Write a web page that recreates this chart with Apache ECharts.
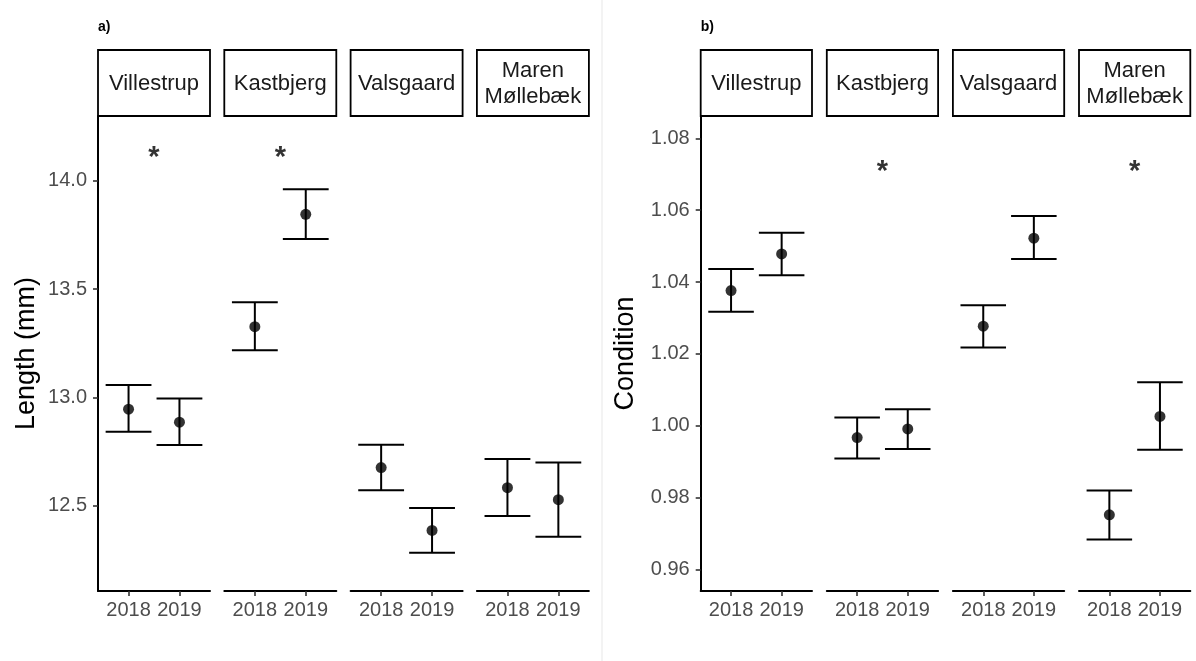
<!DOCTYPE html>
<html>
<head>
<meta charset="utf-8">
<script src="https://cdn.jsdelivr.net/npm/echarts@6/dist/echarts.min.js"></script>
<style>
  html, body { margin: 0; padding: 0; background: #ffffff; }
  #chart { width: 1196px; height: 661px; }
</style>
</head>
<body>
<div id="chart"></div>
<script>
// Sites (facets) and sampling years
const sites = ['Villestrup', 'Kastbjerg', 'Valsgaard', 'Maren\nMøllebæk'];
const years = ['2018', '2019'];

// Length (mm): mean and confidence limits per site, [2018, 2019]
const lengthMean  = [[12.946, 12.886], [13.327, 13.846], [12.676, 12.386], [12.583, 12.528]];
const lengthLower = [[12.841, 12.780], [13.218, 13.732], [12.571, 12.283], [12.452, 12.357]];
const lengthUpper = [[13.057, 12.995], [13.440, 13.962], [12.782, 12.489], [12.716, 12.700]];
const lengthSignificant = [true, true, false, false];
const lengthStarY = 14.105;
const lengthTicks = [12.5, 13.0, 13.5, 14.0];

// Condition factor: mean and confidence limits per site, [2018, 2019]
const condMean  = [[1.0376, 1.0478], [0.9967, 0.9991], [1.0277, 1.0522], [0.9752, 1.0026]];
const condLower = [[1.0317, 1.0419], [0.9909, 0.9935], [1.0218, 1.0464], [0.9683, 0.9933]];
const condUpper = [[1.0436, 1.0537], [1.0023, 1.0046], [1.0335, 1.0584], [0.9820, 1.0121]];
const condSignificant = [false, true, false, true];
const condStarY = 1.0705;
const condTicks = [0.96, 0.98, 1.00, 1.02, 1.04, 1.06, 1.08];

const FONT = "'Liberation Sans', Arial, sans-serif";
const CAP_HALF = 0.45;

// Panel geometry
const panels = [
  { tag: 'a)', yName: 'Length (mm)', left0: 98, step: 126.3, width: 112,
    yMin: 12.106, yMax: 14.30, ticks: lengthTicks, digits: 1,
    mean: lengthMean, lower: lengthLower, upper: lengthUpper,
    sig: lengthSignificant, starY: lengthStarY, yNameX: 27 },
  { tag: 'b)', yName: 'Condition', left0: 700.7, step: 126.1, width: 111.3,
    yMin: 0.954, yMax: 1.0862, ticks: condTicks, digits: 2,
    mean: condMean, lower: condLower, upper: condUpper,
    sig: condSignificant, starY: condStarY, yNameX: 626 }
];
const TOP = 116, BOTTOM_Y = 591, STRIP_TOP = 50;

const grids = [], xAxes = [], yAxes = [], series = [], graphics = [];

function errorBarItem(params, api) {
  const x = api.value(0), lo = api.value(1), hi = api.value(2);
  const pLo = api.coord([x, lo]);
  const pHi = api.coord([x, hi]);
  const xl = api.coord([x - CAP_HALF, lo])[0];
  const xr = api.coord([x + CAP_HALF, lo])[0];
  const style = { stroke: '#000000', lineWidth: 2 };
  return {
    type: 'group',
    children: [
      { type: 'line', shape: { x1: pLo[0], y1: pLo[1], x2: pHi[0], y2: pHi[1] }, style },
      { type: 'line', shape: { x1: xl, y1: pHi[1], x2: xr, y2: pHi[1] }, style },
      { type: 'line', shape: { x1: xl, y1: pLo[1], x2: xr, y2: pLo[1] }, style }
    ]
  };
}

panels.forEach((p) => {
  // panel tag
  graphics.push({
    type: 'text', left: p.left0, top: 20,
    style: { text: p.tag, font: 'bold 14px ' + FONT, fill: '#000000' }
  });
  // y-axis title
  graphics.push({
    type: 'text', x: p.yNameX, y: (TOP + BOTTOM_Y) / 2, rotation: Math.PI / 2,
    style: { text: p.yName, font: '27px ' + FONT, fill: '#000000',
             align: 'center', verticalAlign: 'middle' }
  });

  sites.forEach((site, si) => {
    const gi = grids.length;
    const left = p.left0 + si * p.step;
    grids.push({ left: left, top: TOP, width: p.width, height: BOTTOM_Y - TOP, containLabel: false });

    // facet strip
    graphics.push({
      type: 'rect', shape: { x: left, y: STRIP_TOP, width: p.width, height: TOP - STRIP_TOP },
      style: { fill: '#ffffff', stroke: '#000000', lineWidth: 1.8 }
    });
    graphics.push({
      type: 'text', x: left + p.width / 2, y: (STRIP_TOP + TOP) / 2 + 1,
      style: { text: site, font: '22px ' + FONT, fill: '#1a1a1a',
               align: 'center', verticalAlign: 'middle', lineHeight: 26 }
    });

    xAxes.push({
      gridIndex: gi, type: 'value', min: 0.4, max: 2.6,
      axisLine: { show: true, onZero: false, lineStyle: { color: '#000000', width: 2 } },
      axisTick: { show: true, length: 5, customValues: [1, 2], lineStyle: { color: '#333333', width: 1.6 } },
      axisLabel: { show: true, customValues: [1, 2], margin: 9,
                   formatter: v => years[Math.round(v) - 1] || '',
                   color: '#4d4d4d', fontSize: 20, fontFamily: FONT },
      splitLine: { show: false }
    });

    const first = si === 0;
    yAxes.push({
      gridIndex: gi, type: 'value', min: p.yMin, max: p.yMax, show: first,
      axisLine: { show: first, lineStyle: { color: '#000000', width: 2 } },
      axisTick: { show: first, length: 5, customValues: p.ticks, lineStyle: { color: '#333333', width: 1.6 } },
      axisLabel: { show: first, customValues: p.ticks, margin: 11,
                   formatter: v => v.toFixed(p.digits),
                   color: '#4d4d4d', fontSize: 20, fontFamily: FONT },
      splitLine: { show: false }
    });

    const barData = years.map((y, yi) => [yi + 1, p.lower[si][yi], p.upper[si][yi]]);
    const ptData = years.map((y, yi) => [yi + 1, p.mean[si][yi]]);

    series.push({
      type: 'custom', xAxisIndex: gi, yAxisIndex: gi, data: barData,
      renderItem: errorBarItem, silent: true, z: 2
    });
    series.push({
      type: 'scatter', xAxisIndex: gi, yAxisIndex: gi, data: ptData,
      symbol: 'circle', symbolSize: 11, itemStyle: { color: '#000000' }, silent: true, z: 3
    });
    if (p.sig[si]) {
      series.push({
        type: 'scatter', xAxisIndex: gi, yAxisIndex: gi, data: [[1.5, p.starY]],
        symbolSize: 0, silent: true, z: 3,
        label: { show: true, position: 'inside', formatter: '*',
                 fontSize: 29, fontWeight: 'bold', fontFamily: FONT, color: '#000000' }
      });
    }
  });
});

// thin divider between the two panels
graphics.push({
  type: 'line', shape: { x1: 602, y1: 0, x2: 602, y2: 661 },
  style: { stroke: '#f3f3f3', lineWidth: 2 }
});

const chart = echarts.init(document.getElementById('chart'), null, { renderer: 'canvas' });
chart.setOption({
  animation: false,
  backgroundColor: '#ffffff',
  grid: grids,
  xAxis: xAxes,
  yAxis: yAxes,
  series: series,
  graphic: { elements: graphics }
});
</script>
</body>
</html>
